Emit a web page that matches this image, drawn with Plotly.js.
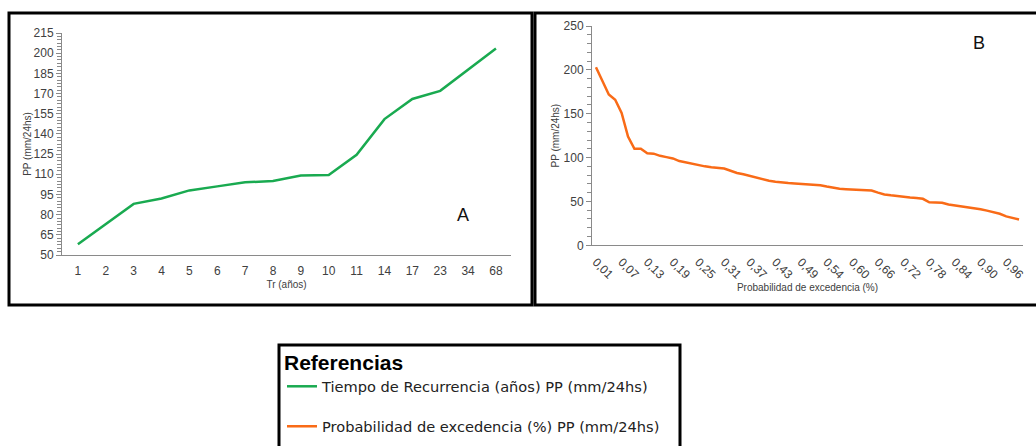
<!DOCTYPE html>
<html>
<head>
<meta charset="utf-8">
<script src="https://cdn.plot.ly/plotly-3.0.1.min.js"></script>
<style>
html,body{margin:0;padding:0;background:#fff;}
#chart{width:1036px;height:446px;}
</style>
</head>
<body>
<div id="chart"></div>
<script>
// ---- Data ----
var trAnios = ['1','2','3','4','5','6','7','8','9','10','11','14','17','23','34','68'];
var ppTr = [58, 73, 88, 92, 98, 101, 104, 105, 109, 109.5, 124.5, 151, 166, 172, 188, 203.5];

var probExc = ['0,01','0,03','0,04','0,06','0,07','0,09','0,10','0,12','0,13','0,15','0,16','0,18','0,19','0,21','0,22','0,24','0,25','0,26','0,28','0,29','0,31','0,32','0,34','0,35','0,37','0,38','0,40','0,41','0,43','0,44','0,46','0,47','0,49','0,50','0,51','0,53','0,54','0,56','0,57','0,59','0,60','0,62','0,63','0,65','0,66','0,68','0,69','0,71','0,72','0,74','0,75','0,76','0,78','0,79','0,81','0,82','0,84','0,85','0,87','0,88','0,90','0,91','0,93','0,94','0,96','0,97','0,99'];
var ppProb = [203, 188, 172, 166, 151, 124, 110, 110, 105, 104.5,
              102, 100.5, 99, 96, 94.5, 92.5, 91, 90, 89, 88,
              87.5, 85, 82.5, 81, 79, 77, 75.5, 73.5, 72.5, 71.5,
              71, 70.5, 70, 69.5, 69.5, 68.5, 67, 65.5, 64.5, 64,
              63.8, 63.5, 63, 62.5, 60, 58, 57, 56, 55.5, 54.5,
              54, 53, 49, 48.5, 48.5, 46.5, 45.5, 44.5, 43.5, 42.5,
              41, 39.5, 37.5, 36, 33, 31.5, 29.5];
var probTicks = ['0,01','0,07','0,13','0,19','0,25','0,31','0,37','0,43','0,49','0,54','0,60','0,66','0,72','0,78','0,84','0,90','0,96'];

var nameA = 'Tiempo de Recurrencia (años) PP (mm/24hs)';
var nameB = 'Probabilidad de excedencia (%) PP (mm/24hs)';

// ---- Layout helpers ----
var W = 1036, H = 446;
function px(x){ return x / W; }
function py(y){ return (H - y) / H; }

var txt = '#404040';
var axLine = '#8a8a8a';

var traces = [
  {x: trAnios, y: ppTr, xaxis: 'x', yaxis: 'y', type: 'scatter', mode: 'lines',
   name: nameA, legendgroup: 'a', line: {color: '#19aa50', width: 2.5}},
  {x: probExc, y: ppProb, xaxis: 'x2', yaxis: 'y2', type: 'scatter', mode: 'lines',
   name: nameB, legendgroup: 'b', line: {color: '#f96b17', width: 2.5}}
];

var tickFont = {family: 'Liberation Sans, Arial, sans-serif', size: 12, color: txt};
var titleFont = {family: 'Liberation Sans, Arial, sans-serif', size: 10, color: txt};

var layout = {
  width: W, height: H,
  margin: {l: 0, r: 0, t: 0, b: 0, autoexpand: false},
  paper_bgcolor: '#fff', plot_bgcolor: '#fff',
  showlegend: true,
  legend: {
    x: px(282), y: py(343), xanchor: 'left', yanchor: 'top',
    bgcolor: 'rgba(0,0,0,0)', borderwidth: 0,
    title: {text: '<b>Referencias</b>', side: 'top',
            font: {family: 'Liberation Sans, Arial, sans-serif', size: 21, color: '#000'}},
    font: {family: 'DejaVu Sans, sans-serif', size: 14.6, color: '#222'},
    tracegroupgap: 18, traceorder: 'grouped'
  },
  xaxis: {
    domain: [px(62), px(511)], anchor: 'y', type: 'category',
    range: [-0.57, 15.54], showgrid: false, zeroline: false,
    showline: true, linecolor: axLine, linewidth: 1,
    ticks: '', tickfont: tickFont, ticklabelstandoff: 5,
    title: {text: 'Tr (años)', font: titleFont, standoff: 3}
  },
  yaxis: {
    domain: [py(255), py(33)], anchor: 'x', range: [50, 215],
    tick0: 50, dtick: 15, showgrid: false, zeroline: false,
    showline: true, linecolor: axLine, linewidth: 1,
    ticks: 'outside', ticklen: 5, tickcolor: axLine, tickfont: tickFont,
    minor: {ticks: 'outside', ticklen: 4, dtick: 2.5, tick0: 50, tickcolor: axLine},
    title: {text: 'PP (mm/24hs)', font: titleFont, standoff: 0}
  },
  yaxis3: {
    overlaying: 'y', anchor: 'x', side: 'left', range: [50, 215],
    tick0: 50, dtick: 15, showgrid: false, zeroline: false, showline: false,
    ticks: 'inside', ticklen: 5, tickcolor: axLine, showticklabels: false,
    minor: {ticks: 'inside', ticklen: 4, dtick: 2.5, tick0: 50, tickcolor: axLine}
  },
  xaxis2: {
    domain: [px(592), px(1023)], anchor: 'y2', type: 'category',
    range: [-0.62, 66.62], showgrid: false, zeroline: false,
    showline: true, linecolor: axLine, linewidth: 1,
    ticks: '', tickmode: 'array', tickvals: probTicks, ticktext: probTicks,
    tickangle: 45, tickfont: tickFont, ticklabelstandoff: 4,
    title: {text: 'Probabilidad de excedencia (%)', font: titleFont, standoff: 3}
  },
  yaxis2: {
    domain: [py(245.3), py(26)], anchor: 'x2', range: [0, 250],
    tick0: 0, dtick: 50, showgrid: false, zeroline: false,
    showline: true, linecolor: axLine, linewidth: 1,
    ticks: 'outside', ticklen: 5, tickcolor: axLine, tickfont: tickFont,
    minor: {ticks: 'outside', ticklen: 4, dtick: 10, tickcolor: axLine},
    title: {text: 'PP (mm/24hs)', font: titleFont, standoff: 2}
  },
  yaxis4: {
    overlaying: 'y2', anchor: 'x2', side: 'left', range: [0, 250],
    tick0: 0, dtick: 50, showgrid: false, zeroline: false, showline: false,
    ticks: 'inside', ticklen: 5, tickcolor: axLine, showticklabels: false,
    minor: {ticks: 'inside', ticklen: 4, dtick: 10, tickcolor: axLine}
  },
  shapes: [
    {type: 'rect', xref: 'paper', yref: 'paper', x0: px(9), x1: px(532), y0: py(305), y1: py(13),
     line: {color: '#000', width: 3}, fillcolor: 'rgba(0,0,0,0)', layer: 'above'},
    {type: 'rect', xref: 'paper', yref: 'paper', x0: px(535), x1: px(1045), y0: py(305), y1: py(13),
     line: {color: '#000', width: 3}, fillcolor: 'rgba(0,0,0,0)', layer: 'above'},
    {type: 'rect', xref: 'paper', yref: 'paper', x0: px(279), x1: px(680), y0: py(470), y1: py(345),
     line: {color: '#000', width: 3}, fillcolor: 'rgba(0,0,0,0)', layer: 'above'}
  ],
  annotations: [
    {text: 'A', xref: 'paper', yref: 'paper', x: px(463), y: py(215), xanchor: 'center', yanchor: 'middle',
     showarrow: false, font: {family: 'Liberation Sans, Arial, sans-serif', size: 18, color: '#111'}},
    {text: 'B', xref: 'paper', yref: 'paper', x: px(979), y: py(43), xanchor: 'center', yanchor: 'middle',
     showarrow: false, font: {family: 'Liberation Sans, Arial, sans-serif', size: 18, color: '#111'}}
  ]
};

Plotly.newPlot('chart', traces, layout, {displayModeBar: false, staticPlot: true});
</script>
</body>
</html>
